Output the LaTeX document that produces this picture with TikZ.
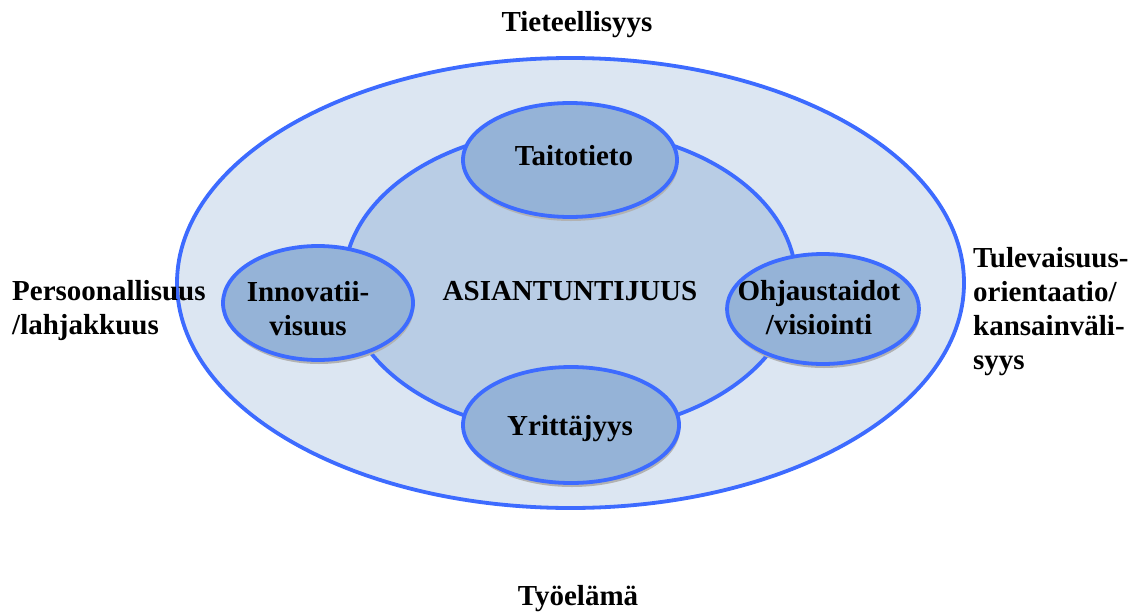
\documentclass[tikz,border=0pt]{standalone}
\usepackage{fontspec}
\setmainfont{Liberation Serif}
\usetikzlibrary{shapes.geometric,shadows}
\definecolor{edgeblue}{HTML}{3D6BFF}
\definecolor{outerfill}{HTML}{DCE6F2}
\definecolor{innerfill}{HTML}{B9CDE5}
\definecolor{smallfill}{HTML}{95B3D7}
\begin{document}
\begin{tikzpicture}[x=1pt,y=-1pt,
  ring/.style={ellipse, draw=edgeblue, line width=3.8pt, inner sep=0pt},
  bigring/.style={ring, fill=outerfill},
  midring/.style={ring, fill=innerfill},
  smallring/.style={ring, fill=smallfill,
    drop shadow={shadow xshift=1pt, shadow yshift=-4pt, fill=black!30, opacity=1}},
  lbl/.style={font=\fontsize{29}{34}\selectfont\bfseries, inner sep=0pt, text=black}
]
\useasboundingbox[fill=white] (0,0) rectangle (1142,613);
\node[bigring, minimum width=787pt, minimum height=450pt] (outer) at (570.5,283) {};
\node[midring, minimum width=452pt, minimum height=304pt] (inner) at (570,281) {};
\node[smallring, minimum width=214pt, minimum height=114pt] (taito) at (570,160) {};
\node[smallring, minimum width=216pt, minimum height=116pt] (yritt) at (571,425) {};
\node[smallring, minimum width=190pt, minimum height=114pt] (innov) at (318,303) {};
\node[smallring, minimum width=192pt, minimum height=110pt] (ohjaus) at (823,309) {};

\node[lbl, anchor=base] (tiet) at (577,31) {Tieteellisyys};
\node[lbl, anchor=base] (tyo) at (578,605) {Työelämä};
\node[lbl, anchor=base] (asi) at (570,300) {ASIANTUNTIJUUS};
\node[lbl, anchor=base] (taitot) at (574,165) {Taitotieto};
\node[lbl, anchor=base] (yrittt) at (570,435) {Yrittäjyys};
\node[lbl, anchor=base, align=center] (innovt) at (308,335) {Innovatii-\\visuus};
\node[lbl, anchor=base, align=center] (ohjaust) at (819,334) {Ohjaustaidot\\/visiointi};
\node[lbl, anchor=base west, align=left] (pers) at (12,334) {Persoonallisuus\\/lahjakkuus};
\node[lbl, anchor=base west, align=left] (tulev) at (973,369) {Tulevaisuus-\\orientaatio/\\kansainväli-\\syys};
\end{tikzpicture}
\end{document}
